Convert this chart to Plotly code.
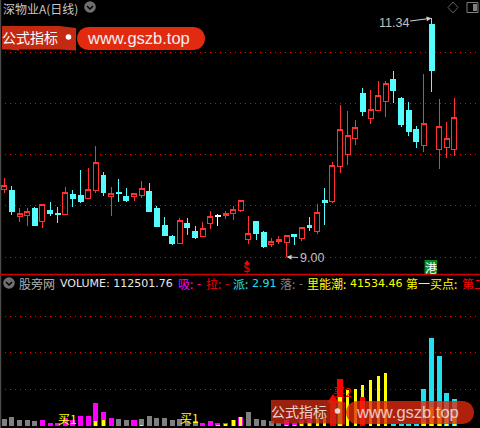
import math
import plotly.graph_objects as go

W, H = 480, 428

# Daily candles, in price units
high_p = [9.77,9.70,9.48,9.48,9.49,9.51,9.54,9.49,9.69,9.66,9.85,9.87,10.09,9.83,9.69,9.76,9.68,9.63,9.74,9.73,
          9.50,9.39,9.22,9.38,9.38,9.30,9.34,9.45,9.42,9.45,9.50,9.55,9.40,9.35,9.25,9.19,9.21,9.21,9.23,9.29,
          9.39,9.52,9.68,9.93,10.49,10.43,10.34,10.66,10.64,10.72,10.72,10.82,10.57,10.52,10.28,10.79,11.34,10.55,10.32,10.56]
open_p = [9.66,9.65,9.40,9.41,9.48,9.35,9.46,9.43,9.42,9.61,9.60,9.57,9.65,9.80,9.59,9.63,9.59,9.59,9.60,9.64,
          9.48,9.31,9.20,9.13,9.33,9.25,9.20,9.33,9.41,9.41,9.43,9.46,9.17,9.35,9.24,9.12,9.15,9.14,9.22,9.18,
          9.31,9.25,9.55,9.54,9.89,10.00,10.16,10.60,10.36,10.44,10.52,10.74,10.55,10.44,10.25,10.09,11.28,10.05,10.07,10.05]
close_p = [9.70,9.45,9.43,9.45,9.31,9.51,9.43,9.42,9.63,9.57,9.54,9.66,9.93,9.63,9.62,9.62,9.55,9.62,9.67,9.45,
           9.30,9.21,9.13,9.36,9.29,9.19,9.28,9.40,9.40,9.43,9.47,9.55,9.23,9.23,9.10,9.15,9.17,9.21,9.20,9.29,
           9.29,9.44,9.53,9.90,10.25,10.19,10.27,10.43,10.45,10.58,10.70,10.63,10.30,10.23,10.13,10.31,10.83,10.28,10.16,10.37]
low_p = [9.63,9.41,9.34,9.30,9.30,9.28,9.40,9.33,9.42,9.49,9.53,9.57,9.63,9.60,9.40,9.54,9.54,9.55,9.58,9.45,
         9.30,9.21,9.12,9.13,9.22,9.18,9.20,9.27,9.30,9.37,9.36,9.44,9.13,9.17,9.09,9.10,9.13,9.00,9.12,9.16,
         9.25,9.23,9.31,9.53,9.82,9.90,10.10,10.38,10.30,10.44,10.37,10.51,10.27,10.19,10.07,10.03,10.62,9.86,9.97,9.99]
doji_days = [28]

# Volume pane, in thousands
volume_k = [29,41,25,25,21,25,16,16,33,25,
            45,45,95,58,33,29,25,25,29,45,
            33,33,25,29,21,21,16,21,16,16,
            25,37,58,29,25,21,16,25,16,25,
            29,33,41,107,197,148,156,169,189,206,
            218,12,12,12,12,152,362,288,136,112.5]
volume_kind = list("gggggmmmmm"
                   "mmmmmggmgg"
                   "gggggg" "mmmm"
                   "mmgggggmmm"
                   "mnnrrnnnnn"
                   "nccccccccc")
inner_k = [0,0,0,0,0,0,0,0,0,0,
           0,0,21,25,0,0,0,0,8,0,
           0,0,0,0,0,0,0,0,8,12,
           25,37,0,0,0,0,0,8,8,12,
           16,33,41,0,123,148,156,169,189,206,
           218,0,0,0,0,20,82,82,45,41.5]
surge_k = {47: 123}

price_ticks = [9.0, 9.5, 10.0, 10.5, 11.0]
volume_ticks = [150, 300, 450]

RED = "#ff3232"; CYAN = "#54fcfc"; GRID = "#f00000"
KIND_COLOR = {"g": "#808080", "m": "#ff00ff", "r": "#ff0000", "c": "#22e0f0", "n": "rgba(0,0,0,0)"}
CJK = "Noto Sans CJK SC"
days = list(range(len(open_p)))
plain = [d for d in days if d not in doji_days]


def px(x):
    return x / W


def py(y):
    return 1 - y / H


fig = go.Figure()
fig.add_trace(go.Candlestick(
    x=plain, open=[open_p[d] for d in plain], high=[high_p[d] for d in plain],
    low=[low_p[d] for d in plain], close=[close_p[d] for d in plain],
    whiskerwidth=0,
    increasing=dict(line=dict(color=RED, width=1), fillcolor="#000000"),
    decreasing=dict(line=dict(color=CYAN, width=1), fillcolor=CYAN),
    xaxis="x", yaxis="y", showlegend=False))
fig.add_trace(go.Candlestick(
    x=doji_days, open=[open_p[d] for d in doji_days], high=[high_p[d] for d in doji_days],
    low=[low_p[d] for d in doji_days], close=[close_p[d] for d in doji_days],
    whiskerwidth=0,
    increasing=dict(line=dict(color="#ffffff", width=1), fillcolor="#ffffff"),
    decreasing=dict(line=dict(color="#ffffff", width=1), fillcolor="#ffffff"),
    xaxis="x", yaxis="y", showlegend=False))
fig.add_trace(go.Bar(x=days, y=volume_k, width=0.66,
                     marker=dict(color=[KIND_COLOR[k] for k in volume_kind], line=dict(width=0)),
                     xaxis="x", yaxis="y2", showlegend=False))
fig.add_trace(go.Bar(x=days, y=inner_k, width=0.42,
                     marker=dict(color="#ffff00", line=dict(width=0)),
                     xaxis="x", yaxis="y2", showlegend=False))
fig.add_trace(go.Bar(x=list(surge_k), y=list(surge_k.values()), width=0.66,
                     marker=dict(color="#ff0000", line=dict(width=0)),
                     xaxis="x", yaxis="y2", showlegend=False))

shapes = []


def shp(path, fill, line=None, width=1, opacity=1):
    shapes.append(dict(type="path", path=path, xref="paper", yref="paper",
                       fillcolor=fill, opacity=opacity,
                       line=dict(color=line or "rgba(0,0,0,0)", width=width if line else 0)))


def poly(points):
    return "M" + " L".join(f"{px(a):.5f},{py(b):.5f}" for a, b in points) + " Z"


def rect(x0, y0, x1, y1, fill, line=None, opacity=1):
    shapes.append(dict(type="rect", xref="paper", yref="paper", x0=px(x0), x1=px(x1), y0=py(y0), y1=py(y1),
                       fillcolor=fill, opacity=opacity,
                       line=dict(color=line or "rgba(0,0,0,0)", width=1 if line else 0)))


def circle(cx, cy, r, fill, opacity=1):
    shapes.append(dict(type="circle", xref="paper", yref="paper", x0=px(cx - r), x1=px(cx + r),
                       y0=py(cy - r), y1=py(cy + r), fillcolor=fill, opacity=opacity, line=dict(width=0)))


def hline(x0, x1, y, color, width=1):
    shapes.append(dict(type="line", xref="paper", yref="paper", x0=px(x0), x1=px(x1), y0=py(y), y1=py(y),
                       line=dict(color=color, width=width)))


def vline(x, y0, y1, color, width=1):
    shapes.append(dict(type="line", xref="paper", yref="paper", x0=px(x), x1=px(x), y0=py(y0), y1=py(y1),
                       line=dict(color=color, width=width)))


def chevron(cx, cy):
    circle(cx, cy, 5.8, "#707070")
    shapes.append(dict(type="path", xref="paper", yref="paper",
                       path=f"M{px(cx-3):.5f},{py(cy-1):.5f} L{px(cx):.5f},{py(cy+2):.5f} L{px(cx+3):.5f},{py(cy-1):.5f}",
                       line=dict(color="#000000", width=1.5)))


vline(0.5, 0, H, "#4a4a4a", 1.5)
hline(0, W, 274.5, "#d00000", 1.5)
chevron(90, 7)
chevron(9, 283)
shp(poly([(453, 2), (458, 7.5), (453, 13), (448, 7.5)]), "rgba(0,0,0,0)", "#606060")
rect(467, 2.5, 478, 12.5, "rgba(0,0,0,0)", "#808080")
rect(473, 4, 477, 11, "#808080")

# signal markers
shp(poly([(247, 260), (250, 264), (244, 264)]), "#ff0000")
rect(424.5, 260, 437, 274, "#008a20")
shp(poly([(333, 394), (339, 403), (336, 403), (336, 426), (330, 426), (330, 403), (327, 403)]), "#ff0000")


def badge(dx, dy, opacity):
    shp(poly([(2 + dx, 26 + dy), (59 + dx, 26 + dy), (76 + dx, 28 + dy), (76 + dx, 50.5 + dy),
              (59 + dx, 49.5 + dy), (19 + dx, 49.5 + dy), (19 + dx, 50.5 + dy), (8 + dx, 49.5 + dy), (2 + dx, 49.5 + dy)]),
        "#c42a12", opacity=opacity)
    r = 11.5
    cy = 38.5 + dy
    pill = []
    for a in range(-90, 91, 15):
        t = math.radians(a)
        pill.append((193.5 + dx + r * math.cos(t), cy + r * math.sin(t)))
    for a in range(90, 271, 15):
        t = math.radians(a)
        pill.append((88.5 + dx + r * math.cos(t), cy + r * math.sin(t)))
    shp(poly(pill), "#e22a10", opacity=opacity)
    circle(68.5 + dx, 37 + dy, 2.8, "#ffffff", opacity=opacity)


badge(0, 0, 1)
badge(269, 374, 0.78)

ann = []


def label(x, y, text, color, size=12, font=CJK, anchor="left", opacity=1):
    ann.append(dict(x=px(x), y=py(y), xref="paper", yref="paper", text=text, showarrow=False,
                    xanchor=anchor, yanchor="middle", opacity=opacity,
                    font=dict(color=color, size=size, family=font), borderpad=0, borderwidth=0))


LAT = "DejaVu Sans"
label(3, 8, "深物业A(日线)", "#c8c8c8", 12)
label(2, 37, "公式指标", "#ffffff", 14)
label(87, 37.5, "www.gszb.top", "#f0f0f0", 16.5, "Liberation Sans")
label(271, 411, "公式指标", "#ffffff", 14, opacity=0.8)
label(356, 411.5, "www.gszb.top", "#f0f0f0", 16.5, "Liberation Sans", opacity=0.8)
label(430.5, 267, "港", "#ffffff", 12, anchor="center")
label(247, 268, "$", "#ff0000", 12, "DejaVu Sans", anchor="center")

label(19, 283, "股旁网", "#b0b0b0", 12)
label(60, 283, "VOLUME: 112501.76", "#e8e8e8", 11, LAT)
label(178, 283, "吸:", "#ff00ff", 12)
label(197, 283, "-", "#ff00ff", 11, LAT)
label(206, 283, "拉:", "#ff0000", 12)
label(225, 283, "-", "#ff0000", 11, LAT)
label(233, 283, "派:", "#22e0f0", 12)
label(252, 283, "2.91", "#22e0f0", 11, LAT)
label(280, 283, "落:", "#808080", 12)
label(299, 283, "-", "#808080", 11, LAT)
label(307, 283, "里能潮:", "#ffff00", 12)
label(350, 283, "41534.46", "#ffff00", 11, LAT)
label(406, 283, "第一买点:", "#ffff00", 12)
label(462, 283, "第二", "#ff0000", 12)
label(58, 418, "买1", "#ffff00", 12)
label(180, 417, "买1", "#ffff00", 12)
label(333, 391, "买2", "#ff0000", 12)

for d, value, text, ax, ay in [(56, 11.34, "11.34", -38, 5), (37, 9.00, "9.00", 25, 1)]:
    ann.append(dict(x=d, y=value, xref="x", yref="y", text=text, showarrow=True, ax=ax, ay=ay,
                    arrowhead=2, arrowsize=1, arrowwidth=1, arrowcolor="#d0d0d0",
                    font=dict(color="#c0c0c0", size=12.5, family="Liberation Sans")))

fig.update_layout(
    width=W, height=H, autosize=False, margin=dict(l=0, r=0, t=0, b=0, pad=0),
    paper_bgcolor="#000000", plot_bgcolor="#000000", barmode="overlay", bargap=0,
    boxmode="overlay", boxgap=0.35, boxgroupgap=0, hovermode=False, showlegend=False,
    shapes=shapes, annotations=ann,
    xaxis=dict(domain=[0, 1], range=[-0.5636, 62.35], visible=False, rangeslider=dict(visible=False),
               showgrid=False, zeroline=False),
    yaxis=dict(domain=[1 - 274 / H, 1], range=[8.8334, 11.5186], showticklabels=False, ticks="",
               tickmode="array", tickvals=price_ticks, showgrid=True, gridcolor=GRID, gridwidth=1,
               griddash="1px 4px", zeroline=False, showline=False),
    yaxis2=dict(domain=[1 - 426 / H, 1 - 274.5 / H], range=[0, 622], showticklabels=False, ticks="",
                tickmode="array", tickvals=volume_ticks, showgrid=True, gridcolor=GRID, gridwidth=1,
                griddash="1px 4px", zeroline=False, showline=False),
)

fig.write_html("out.html", config=dict(displayModeBar=False),
               post_script="document.body.style.margin='0';document.body.style.background='#000';document.documentElement.style.overflow='hidden';"
                           "var s=document.createElement('style');s.textContent='path.box{shape-rendering:crispEdges !important}';document.head.appendChild(s);")
